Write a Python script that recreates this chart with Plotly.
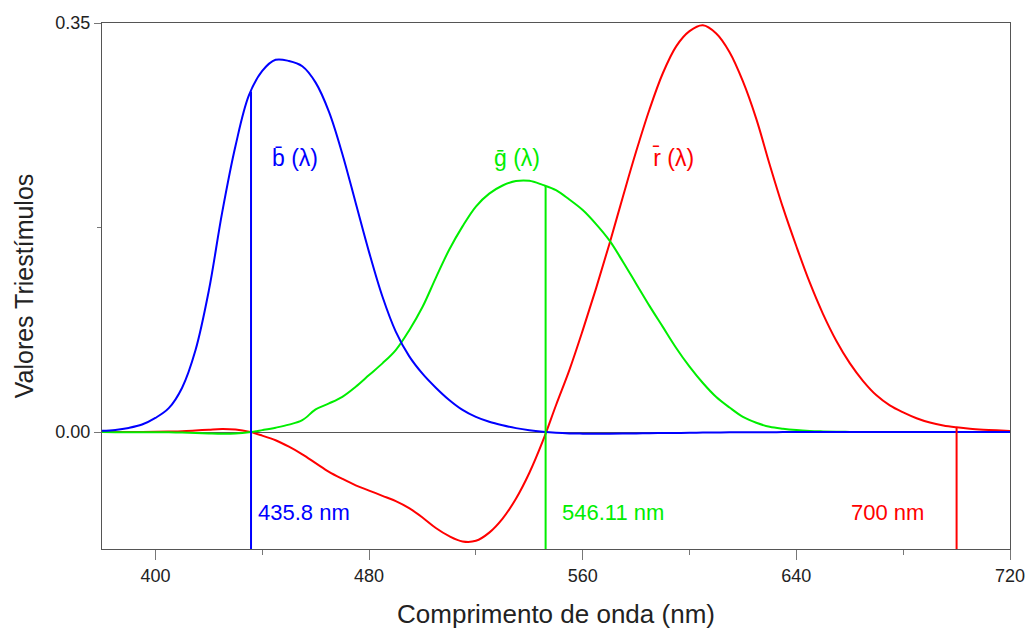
import numpy as np
import plotly.graph_objects as go

# Wavelength grid (nm)
wavelength = list(range(380, 725, 5))

# Colour-matching functions r(λ), g(λ), b(λ)
r_bar = [0.00003, 0.00005, 0.0001, 0.00017, 0.0003, 0.0005, 0.0008, 0.0014, 0.0021, 0.0027,
         0.0022, 0.0004, -0.003, -0.007, -0.0125, -0.019, -0.0265, -0.034, -0.040, -0.0455,
         -0.050, -0.0545, -0.059, -0.065, -0.073, -0.082, -0.089, -0.0935, -0.093, -0.086,
         -0.074, -0.057, -0.035, -0.008, 0.023, 0.053, 0.087, 0.123, 0.161, 0.201,
         0.240, 0.276, 0.307, 0.330, 0.343, 0.348, 0.341, 0.325, 0.300, 0.268,
         0.229, 0.192, 0.159, 0.128, 0.101, 0.078, 0.059, 0.0437, 0.0315, 0.0229,
         0.0169, 0.0119, 0.0082, 0.0057, 0.0041, 0.0029, 0.0021, 0.0015, 0.00105]

g_bar = [-0.00001, -0.00002, -0.00004, -0.00007, -0.00014, -0.0002, -0.0004, -0.0007, -0.0011, -0.0014,
         -0.0012, -0.0002, 0.0017, 0.0038, 0.0064, 0.0102, 0.0194, 0.0245, 0.0302, 0.0388,
         0.0488, 0.0588, 0.0702, 0.087, 0.107, 0.132, 0.156, 0.176, 0.193, 0.204,
         0.211, 0.2148, 0.215, 0.2115, 0.207, 0.199, 0.190, 0.178, 0.164, 0.146,
         0.127, 0.108, 0.090, 0.072, 0.056, 0.042, 0.030, 0.021, 0.013, 0.008,
         0.0045, 0.0028, 0.0017, 0.001, 0.0006, 0.0003, 0.0002, 0.0001, 0.0, 0.0,
         0.0, 0.0, 0.0, 0.0, 0.0, 0.0, 0.0, 0.0, 0.0]

b_bar = [0.00117, 0.00189, 0.00359, 0.00647, 0.01214, 0.0205, 0.038, 0.070, 0.121, 0.188,
         0.245, 0.288, 0.309, 0.3185, 0.3175, 0.313, 0.299, 0.274, 0.238, 0.196,
         0.154, 0.116, 0.086, 0.065, 0.050, 0.038, 0.0275, 0.019, 0.013, 0.0088,
         0.0058, 0.0034, 0.0016, 0.0003, -0.0006, -0.0011, -0.0013, -0.0014, -0.0013, -0.0012,
         -0.0011, -0.0009, -0.0008, -0.0007, -0.0006, -0.0004, -0.0003, -0.0002, -0.0002, -0.0001,
         -0.0001, 0.0, 0.0, 0.0, 0.0, 0.0, 0.0, 0.0, 0.0, 0.0,
         0.0, 0.0, 0.0, 0.0, 0.0, 0.0, 0.0, 0.0, 0.0]

# Primary wavelengths (nm)
primary_b = 435.8
primary_g = 546.11
primary_r = 700.0

BLUE = "#0000FF"
GREEN = "#00EE00"
RED = "#FF0000"
AXIS = "#555555"
FONT = "Liberation Sans, Arial, sans-serif"

y_min, y_max = -0.1, 0.35

fig = go.Figure()

for values, color in ((r_bar, RED), (g_bar, GREEN), (b_bar, BLUE)):
    fig.add_trace(go.Scatter(
        x=wavelength, y=values, mode="lines",
        line=dict(color=color, width=2, shape="spline", smoothing=1.0),
        hoverinfo="skip", showlegend=False,
    ))

# Vertical lines at the primaries, from the curve down to the axis floor
for lam, values, color in ((primary_b, b_bar, BLUE), (primary_g, g_bar, GREEN), (primary_r, r_bar, RED)):
    top = float(np.interp(lam, wavelength, values))
    fig.add_trace(go.Scatter(
        x=[lam, lam], y=[top, y_min], mode="lines",
        line=dict(color=color, width=2),
        hoverinfo="skip", showlegend=False,
    ))

# Curve names
curve_labels = [
    ("b\u0304 (\u03bb)", 443.0, BLUE),
    ("g\u0304 (\u03bb)", 526.0, GREEN),
    ("r\u0304 (\u03bb)", 585.3, RED),
]
for text, x, color in curve_labels:
    fig.add_annotation(x=x, y=0.2345, text=text, showarrow=False, xanchor="left",
                       yanchor="middle", font=dict(family=FONT, size=23, color=color))

# Primary wavelength labels
primary_labels = [
    ("435.8 nm", 437.7, BLUE),
    ("546.11 nm", 551.5, GREEN),
    ("700 nm", 659.7, RED),
]
for text, x, color in primary_labels:
    fig.add_annotation(x=x, y=-0.0685, text=text, showarrow=False, xanchor="left",
                       yanchor="middle", font=dict(family=FONT, size=22, color=color))

fig.update_layout(
    width=1031, height=629,
    margin=dict(l=102, r=21, t=23, b=80, autoexpand=False),
    paper_bgcolor="white", plot_bgcolor="white",
    font=dict(family=FONT, color="#222222"),
    xaxis=dict(
        range=[380, 720], tickvals=[400, 480, 560, 640, 720], automargin=False,
        ticks="outside", ticklen=10, tickcolor="#777777", tickwidth=1,
        minor=dict(tickvals=[440, 520, 600, 680], ticks="outside", ticklen=5, tickcolor="#777777"),
        showline=True, linecolor=AXIS, linewidth=1, mirror=True,
        showgrid=False, zeroline=False,
        tickfont=dict(family=FONT, size=18, color="#222222"),
        title=dict(text="Comprimento de onda (nm)", font=dict(family=FONT, size=26, color="#222222"),
                   standoff=20),
    ),
    yaxis=dict(
        range=[y_min, y_max], tickvals=[0, 0.35], ticktext=["0.00", "0.35"], automargin=False,
        ticks="outside", ticklen=7, tickcolor="#777777", tickwidth=1,
        minor=dict(tickvals=[0.175], ticks="outside", ticklen=4, tickcolor="#777777"),
        showline=True, linecolor=AXIS, linewidth=1, mirror=True,
        showgrid=False, zeroline=True, zerolinecolor=AXIS, zerolinewidth=1,
        tickfont=dict(family=FONT, size=18, color="#222222"),
        title=dict(text="Valores Triestímulos", font=dict(family=FONT, size=25, color="#222222"),
                   standoff=14),
    ),
)

fig.write_html("out.html")
